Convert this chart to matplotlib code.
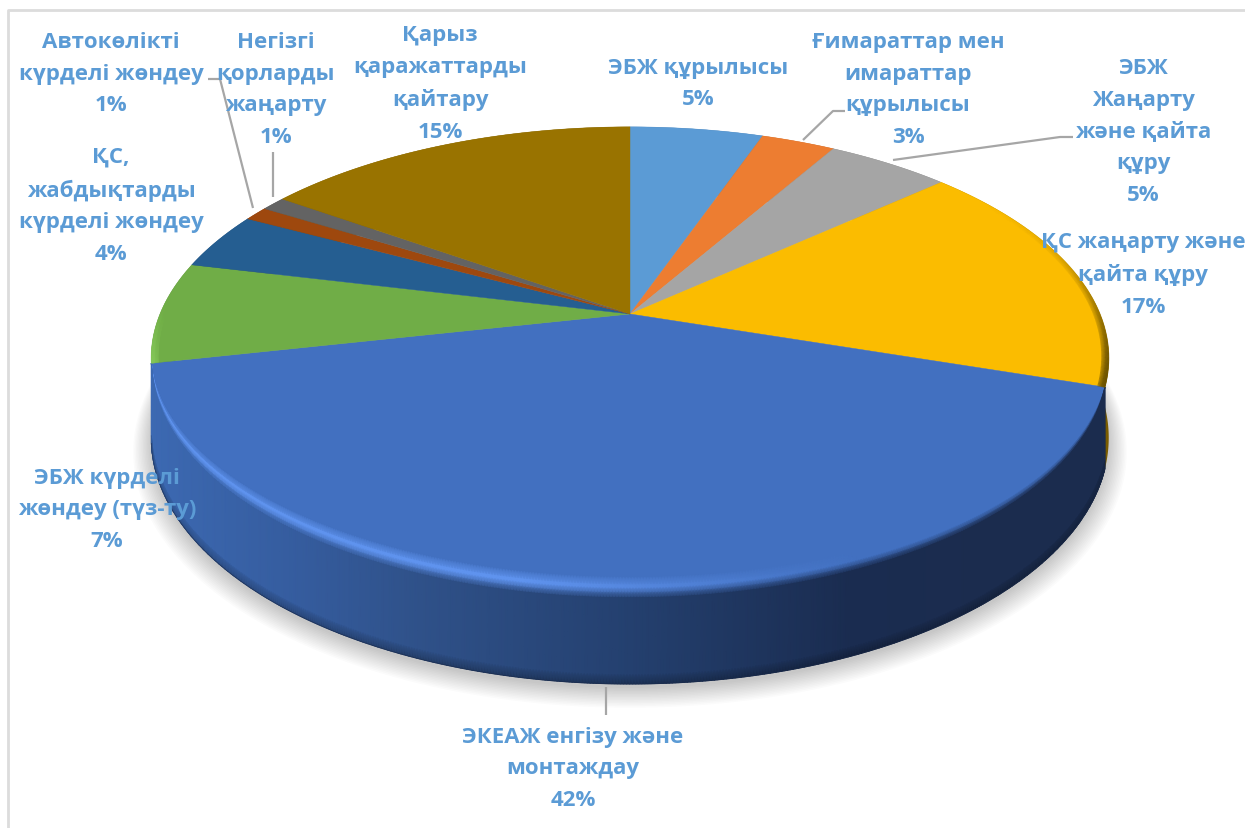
import numpy as np
import matplotlib
matplotlib.use('Agg')
import matplotlib.pyplot as plt
from matplotlib.colors import to_rgb

#Slices, clockwise from the top
categories = ['ЭБЖ құрылысы', 'Ғимараттар мен\nимараттар\nқұрылысы', 'ЭБЖ\nЖаңарту\nжәне қайта\nқұру',
              'ҚС жаңарту және\nқайта құру', 'ЭКЕАЖ енгізу және\nмонтаждау', 'ЭБЖ күрделі\nжөндеу (түз-ту)',
              'ҚС,\nжабдықтарды\nкүрделі жөндеу', 'Автокөлікті\nкүрделі жөндеу', 'Негізгі\nқорларды\nжаңарту',
              'Қарыз\nқаражаттарды\nқайтару']
values = [5.4, 3.0, 5.0, 16.6, 41.6, 7.1, 4.0, 1.0, 1.0, 15.3]
colors = ['#5b9bd5', '#ed7d31', '#a5a5a5', '#fbbc00', '#4270c0', '#70ad47', '#255e91', '#9e480e', '#636363', '#997300']
side_colors = ['#3d6f9f', '#a5561f', '#737373', '#7a5c00', '#1b2c4e', '#4a7a2c', '#1a4266', '#6e320a', '#454545', '#6b5000']

#Label centres in pixels
label_xy = [(698, 84), (908, 90), (1143, 132), (1143, 275), (573, 769), (107, 510), (111, 206), (111, 74), (276, 90), (440, 84)]
#Leader lines in pixels
leaders = [[(208, 80), (220, 80), (253, 209)], [(273, 153), (273, 198)], [(845, 112), (833, 112), (803, 141)],
           [(1073, 138), (1060, 138), (893, 161)], [(606, 688), (606, 716)]]

#Pie geometry in pixels
cx, cy = 630, 315
a, b, k, h = 470, 222.7, 0.19, 77


def project(r, th, d=0.0):
    u = r*np.sin(th)
    v = r*np.cos(th)
    s = 1/(1 + k*v)
    return cx + a*u*s, cy - b*v*s + d*h*s


def rgb(c):
    return np.array(to_rgb(c))


fig = plt.figure(figsize=(12.45, 8.29), dpi=100)
ax = fig.add_axes([0, 0, 1, 1])
ax.set_xlim(0, 1245)
ax.set_ylim(829, 0)
ax.axis('off')

#Chart frame
ax.plot([8, 8, 1245], [829, 11, 11], color='#dcdcdc', lw=2, zorder=1)

edges = np.cumsum([0] + values)/sum(values)*2*np.pi

#Soft shadow
full = np.linspace(0, 2*np.pi, 361)
for i in range(14):
    sx, sy = project(1 + 0.0028*i, full, 1.0)
    ax.fill(sx, sy + 4 + i*0.5, color='k', alpha=0.014, lw=0, zorder=2)

#Side walls
for i in range(len(values)):
    th = np.linspace(edges[i], edges[i+1], 120)
    x0, y0 = project(1, th)
    x1, y1 = project(1, th, 1.0)
    ax.fill(np.r_[x0, x1[::-1]], np.r_[y0, y1[::-1]], color=side_colors[i], lw=0, zorder=3)

#Top faces
for i in range(len(values)):
    th = np.linspace(edges[i], edges[i+1], 200)
    x0, y0 = project(1, th)
    ax.fill(np.r_[cx, x0], np.r_[cy, y0], color=colors[i], lw=0.3, ec=colors[i], zorder=4)

#Front wall of the large slice, shaded with the bevel
th = np.linspace(edges[4], edges[5], 500)
taper = np.sin(np.linspace(0, np.pi, len(th)))**0.5
rows = [(-12, 0), (-4, 0), (-1, 0), (4, 0), (9, 0), (0, 0.9), (0, 1.0)]
X = np.array([project(1, th, d)[0] for up, d in rows])
Y = np.array([project(1, th, d)[1] + up*taper for up, d in rows])
xs = X[-1]
stop_x = [150, 300, 420, 630, 850, 1000, 1107]
stop_c = np.array([to_rgb(c) for c in ['#3c69b2', '#355c9e', '#2f5189', '#24406f', '#1a2c50', '#1b2c4e', '#1b2c4e']])
side = np.array([np.interp(xs, stop_x, stop_c[:, j]) for j in range(3)]).T
face = rgb(colors[4])*np.ones_like(side)
glow = np.interp(xs, [150, 520, 760, 860], [1, 1, 0.25, 0])[:, None]
ridge = face + glow*(rgb('#5f93ee') - face)
C = np.zeros((len(rows), len(th), 4))
C[..., 3] = 1
C[0, :, :3] = face
C[1, :, :3] = ridge
C[2, :, :3] = ridge
C[3, :, :3] = 0.5*(ridge + side)
C[4, :, :3] = side
C[5, :, :3] = side
C[6, :, :3] = side*0.72
ax.pcolormesh(X, Y, C, shading='gouraud', zorder=5)
ox, oy = project(1, th, 1.0)
ax.plot(ox, oy, color='#1b2c4e', lw=0.6, alpha=0.6, zorder=5)

#Rim of the yellow and green slices
for i, edge_c, lo, hi in [(3, '#6b5200', 0.0, 1.0), (5, '#86c95a', 0.8, 0.0)]:
    th = np.linspace(edges[i], edges[i+1], 200)
    rr = [0.985, 1.0]
    X = np.array([project(r, th)[0] for r in rr])
    Y = np.array([project(r, th)[1] for r in rr])
    C = np.zeros((2, len(th), 4))
    C[..., :3] = rgb(edge_c)
    C[1, :, 3] = np.linspace(lo, hi, len(th))**3
    ax.pcolormesh(X, Y, C, shading='gouraud', zorder=5)

#Leader lines
for line in leaders:
    lx, ly = zip(*line)
    ax.plot(lx, ly, color='#a6a6a6', lw=1.6, zorder=6, solid_capstyle='butt')

#Labels
for cat, val, (lx, ly) in zip(categories, values, label_xy):
    ax.text(lx, ly, f'{cat}\n{val:.0f}%', ha='center', va='center', ma='center', color='#5b9bd5',
            fontsize=16, fontweight='bold', family='Open Sans', linespacing=1.68, zorder=7)

plt.savefig('out.png', dpi=100)
